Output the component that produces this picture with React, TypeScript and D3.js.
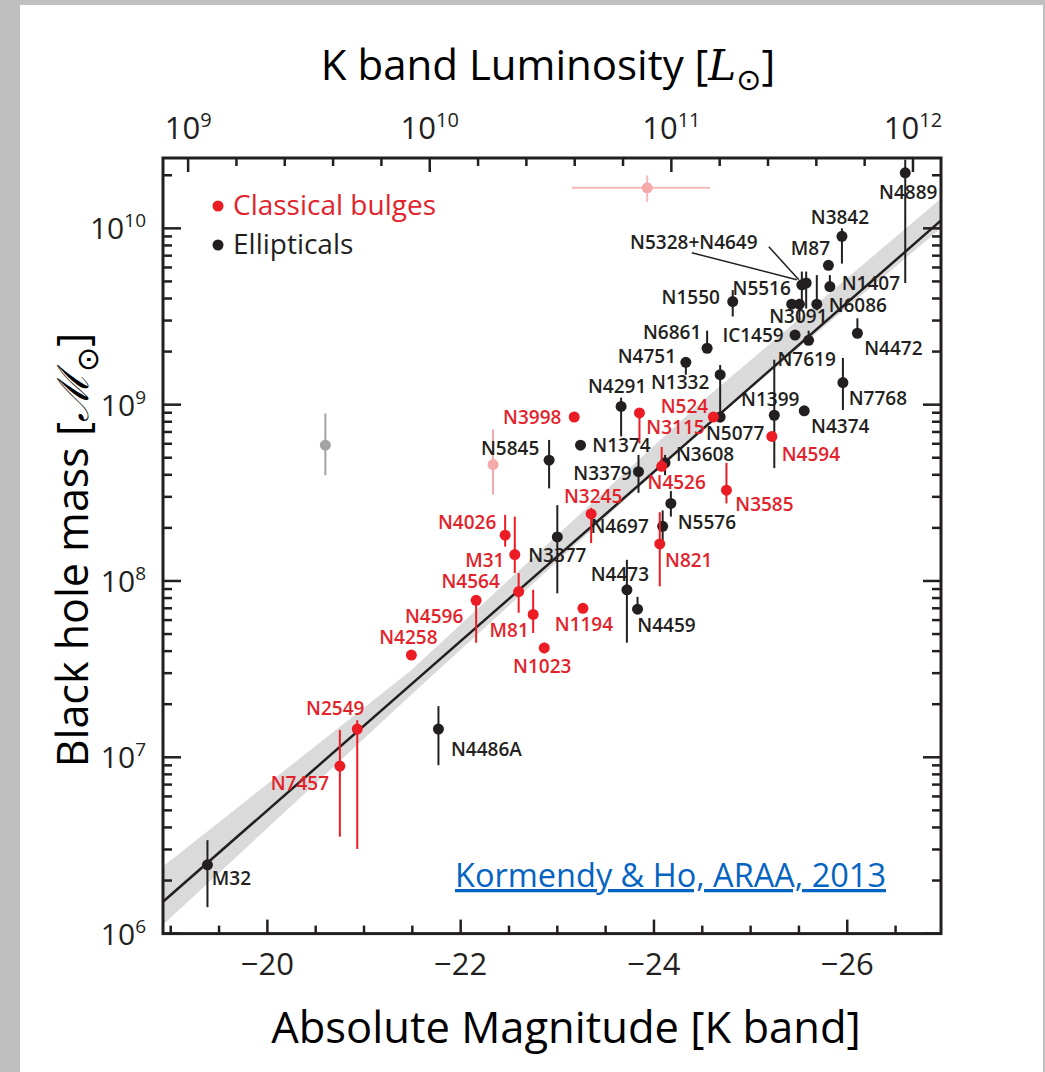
import React from 'react';
import * as d3 from 'd3';

// [name, M_K, log10 M_BH, err low, err high]
type Gal = [string, number, number, number | null, number | null];

const classicalBulges: Gal[] = [
  ['N7457', -20.75, 6.95, 6.55, 7.155],
  ['N2549', -20.93, 7.16, 6.48, 7.21],
  ['N4258', -21.49, 7.58, null, null],
  ['N4596', -22.16, 7.89, 7.65, 7.9],
  ['N4564', -22.6, 7.94, 7.82, 8.045],
  ['M81', -22.75, 7.81, 7.705, 7.95],
  ['N1023', -22.865, 7.62, 7.59, 7.65],
  ['N4026', -22.46, 8.26, 8.195, 8.375],
  ['M31', -22.56, 8.15, 8.045, 8.365],
  ['N1194', -23.265, 7.845, null, null],
  ['N3245', -23.35, 8.38, 8.215, 8.415],
  ['N3998', -23.175, 8.93, null, null],
  ['N3115', -23.85, 8.953, 8.78, 8.97],
  ['N4526', -24.08, 8.65, 8.63, 8.76],
  ['N821', -24.06, 8.21, 7.97, 8.39],
  ['N524', -24.615, 8.93, null, null],
  ['N3585', -24.75, 8.515, 8.44, 8.67],
  ['N4594', -25.22, 8.82, null, null],
];

const ellipticals: Gal[] = [
  ['M32', -19.38, 6.39, 6.15, 6.53],
  ['N4486A', -21.77, 7.16, 6.955, 7.29],
  ['N3377', -23.0, 8.25, 7.93, 8.43],
  ['N5845', -22.915, 8.685, 8.525, 8.8],
  ['N1374', -23.24, 8.77, 8.75, 8.79],
  ['N4291', -23.66, 8.99, 8.82, 9.04],
  ['N3379', -23.84, 8.62, 8.5, 8.715],
  ['N3608', -24.115, 8.67, 8.6, 8.715],
  ['N5576', -24.175, 8.44, 8.365, 8.51],
  ['N4697', -24.09, 8.31, 8.195, 8.4],
  ['N4473', -23.72, 7.95, 7.65, 8.12],
  ['N4459', -23.83, 7.84, 7.82, 7.91],
  ['N5077', -24.685, 8.93, 8.9, 8.96],
  ['N1332', -24.685, 9.17, 8.93, 9.225],
  ['N4751', -24.33, 9.24, 9.17, 9.26],
  ['N6861', -24.55, 9.32, 9.3, 9.42],
  ['N1550', -24.815, 9.585, 9.5, 9.65],
  ['N1399', -25.245, 8.94, 8.64, 9.255],
  ['N4374', -25.555, 8.965, 8.94, 8.99],
  ['N7768', -25.955, 9.125, 8.97, 9.265],
  ['N4472', -26.105, 9.405, 9.39, 9.49],
  ['N7619', -25.6, 9.365, 9.35, 9.42],
  ['IC1459', -25.46, 9.395, 9.38, 9.41],
  ['N5516', -25.425, 9.57, null, null],
  ['N3091', -25.505, 9.57, 9.47, 9.6],
  ['N6086', -25.685, 9.57, 9.535, 9.735],
  ['N5328', -25.53, 9.68, 9.545, 9.755],
  ['N4649', -25.575, 9.69, 9.545, 9.755],
  ['N1407', -25.82, 9.67, 9.66, 9.735],
  ['M87', -25.805, 9.79, null, null],
  ['N3842', -25.945, 9.955, 9.8, 10.0],
  ['N4889', -26.6, 10.315, 9.69, 10.39],
];

// faded points: [M_K, logM, err low, err high, colour]
const fadedPoints: [number, number, number, number, string][] = [
  [-22.335, 8.66, 8.49, 8.86, '#f4a9ab'],
  [-20.6, 8.77, 8.6, 8.95, '#a3a3a3'],
];
// representative error cross
const errCross = { mag: -23.93, logM: 10.23, lo: 10.15, hi: 10.3, magLo: -23.15, magHi: -24.58 };

// fit: log M = a + b (M_K + 24.21)
const fitPivot = -24.21;
const fitA = 8.72;
const fitB = -0.48;
const bandMag = [-18.92, -21.48, -24.5, -26.97];
const bandLo = [6.05, 7.35, 8.86, 10.0];
const bandHi = [6.38, 7.49, 9.02, 10.17];

const magTicks = [-20, -22, -24, -26];
const lumExps = [9, 10, 11, 12];
const massExps = [6, 7, 8, 9, 10];

// label placement, px from the dot: [dx, dy]
const labelOffsets: Record<string, [number, number]> = {
  M32: [24, 20], N7457: [-40, 24], N2549: [-22, -14], N4486A: [48, 27],
  N4258: [-3, -11], N4596: [-42, 23], N4564: [-48, -4], M81: [-24, 23],
  N1023: [-2, 25], N4026: [-38, -6], M31: [-30, 12], N1194: [1, 23],
  N3245: [2, -11], N3377: [0, 25], N5845: [-39, -5], N3998: [-42, 7],
  N1374: [41, 7], N4291: [-4, -13], N3115: [36, 21], N3379: [-36, 8],
  N4526: [15, 23], N3608: [40, -2], N5576: [36, 26], N4697: [-43, 7],
  N821: [29, 23], N4473: [-7, -9], N4459: [29, 23], N524: [-29, -4],
  N5077: [15, 23], N1332: [-40, 14], N4751: [-39, 1], N6861: [-35, -9],
  N1550: [-42, 2], N3585: [38, 21], N1399: [-4, -9], N4594: [39, 25],
  N4374: [36, 22], N7768: [35, 22], N4472: [36, 22], N7619: [-2, 26],
  IC1459: [-42, 7], N5516: [-30, -9], N3091: [-1, 19], N6086: [41, 8],
  N1407: [41, 3], M87: [-18, -10], N3842: [-2, -12], N4889: [3, 26],
};

const RED = '#ec1c24';
const RED_TXT = '#e3232b';
const BLACK = '#231f20';
const FONT = "'Open Sans', 'Noto Sans', sans-serif";

const W = 1045;
const H = 1072;
const left = 163;
const right = 941;
const top = 158;
const bottom = 933.6;
const MSUN = 3.32;

const App = () => {
  const x = d3.scaleLinear().domain([-18.92, -26.97]).range([left, right]);
  const y = d3.scaleLog().domain([1e6, Math.pow(10, 10.399)]).range([bottom, top]);
  const lum = (m: number) => Math.pow(10, -0.4 * (m - MSUN));
  const xL = d3.scaleLog().domain([lum(-18.92), lum(-26.97)]).range([left, right]);
  const yl = (v: number) => y(Math.pow(10, v));

  const fitLine = d3
    .line<number>()
    .x((m) => x(m))
    .y((m) => yl(fitA + fitB * (m - fitPivot)))([-18.92, -26.97]);

  const band = d3
    .area<number>()
    .x((_, i) => x(bandMag[i]))
    .y0((_, i) => yl(bandLo[i]))
    .y1((_, i) => yl(bandHi[i]))(bandMag);

  // ticks
  const botTicks = d3.range(-38, -54, -1).map((k) => k / 2);
  const topTicks = d3.range(44, 62).map((k) => k / 5);
  const yTicks: { v: number; major: boolean }[] = [];
  massExps.forEach((e) => {
    for (let m = 1; m < 10; m++) {
      const v = m * Math.pow(10, e);
      if (v >= 1e6 && v <= Math.pow(10, 10.399)) yTicks.push({ v, major: m === 1 });
    }
  });

  const drawGal = (g: Gal, color: string, txt: string) => {
    const [name, m, lm, lo, hi] = g;
    const cx = x(m);
    const cy = yl(lm);
    const off = labelOffsets[name];
    return (
      <g key={name}>
        {lo !== null && hi !== null && (
          <line x1={cx} x2={cx} y1={yl(lo)} y2={yl(hi)} stroke={color} strokeWidth={2} />
        )}
        <circle cx={cx} cy={cy} r={5.5} fill={color} />
        {off && (
          <text
            x={cx + off[0]}
            y={cy + off[1]}
            textAnchor="middle"
            fontSize={19}
            fontWeight={600}
            fill={txt}
          >
            {name}
          </text>
        )}
      </g>
    );
  };

  const n5328 = ellipticals.find((g) => g[0] === 'N5328')!;
  const ax = x(n5328[1]);
  const ay = yl(n5328[2]);

  return (
    <div style={{ position: 'absolute', left: 0, top: 0 }}>
      <svg width={W} height={H} fontFamily={FONT}>
        <rect x={0} y={0} width={W} height={H} fill="#bfbfbf" />
        <rect x={20} y={5} width={1023} height={H - 5} fill="#ffffff" />
        <defs>
          <clipPath id="plot">
            <rect x={left} y={top} width={right - left} height={bottom - top} />
          </clipPath>
        </defs>

        <g clipPath="url(#plot)">
          <path d={band ?? ''} fill="#dadada" />
          <path d={fitLine ?? ''} stroke={BLACK} strokeWidth={2.5} fill="none" />
        </g>

        {/* faded points */}
        {fadedPoints.map(([m, lm, lo, hi, c], i) => (
          <g key={'f' + i}>
            <line x1={x(m)} x2={x(m)} y1={yl(lo)} y2={yl(hi)} stroke={c} strokeWidth={2} />
            <circle cx={x(m)} cy={yl(lm)} r={5.5} fill={c} />
          </g>
        ))}
        <g>
          <line x1={x(errCross.magLo)} x2={x(errCross.magHi)} y1={yl(errCross.logM)} y2={yl(errCross.logM)} stroke="#f6b8b8" strokeWidth={2} />
          <line x1={x(errCross.mag)} x2={x(errCross.mag)} y1={yl(errCross.lo)} y2={yl(errCross.hi)} stroke="#f6b8b8" strokeWidth={2} />
          <circle cx={x(errCross.mag)} cy={yl(errCross.logM)} r={5.5} fill="#f4a9ab" />
        </g>

        {/* N5328 + N4649 leader */}
        <line x1={ax - 110} y1={ay - 32} x2={ax - 5} y2={ay - 5} stroke={BLACK} strokeWidth={1.5} />
        <line x1={ax - 33} y1={ay - 38} x2={ax - 3} y2={ay - 5} stroke={BLACK} strokeWidth={1.5} />
        <text x={ax - 108} y={ay - 36} textAnchor="middle" fontSize={19} fontWeight={600} fill={BLACK}>
          N5328+N4649
        </text>

        {ellipticals.map((g) => drawGal(g, BLACK, BLACK))}
        {classicalBulges.map((g) => drawGal(g, RED, RED_TXT))}

        {/* legend */}
        <circle cx={218} cy={206} r={5.5} fill={RED} />
        <text x={233} y={215} fontSize={28} fill={RED_TXT}>Classical bulges</text>
        <circle cx={218} cy={245} r={5.5} fill={BLACK} />
        <text x={233} y={254} fontSize={28} fill={BLACK}>Ellipticals</text>

        {/* frame */}
        <rect x={left} y={top} width={right - left} height={bottom - top} fill="none" stroke={BLACK} strokeWidth={3} />

        {/* bottom ticks */}
        {botTicks.map((t) => {
          const major = magTicks.includes(t);
          return (
            <line key={'b' + t} x1={x(t)} x2={x(t)} y1={bottom} y2={bottom - (major ? 14 : 8)} stroke={BLACK} strokeWidth={2.5} />
          );
        })}
        {magTicks.map((t) => (
          <text key={'bl' + t} x={x(t)} y={975} textAnchor="middle" fontSize={31} fill={BLACK}>
            {'\u2212' + Math.abs(t)}
          </text>
        ))}

        {/* top ticks */}
        {topTicks.map((e) => {
          const xv = xL(Math.pow(10, e));
          if (xv < left + 2 || xv > right - 2) return null;
          const major = Math.abs(e - Math.round(e)) < 1e-6;
          return (
            <line key={'t' + e} x1={xv} x2={xv} y1={top} y2={top + (major ? 14 : 8)} stroke={BLACK} strokeWidth={2.5} />
          );
        })}
        {lumExps.map((e) => (
          <text key={'tl' + e} x={xL(Math.pow(10, e))} y={139} textAnchor="middle" fontSize={31} fill={BLACK}>
            10<tspan dy={-12} fontSize={20}>{e}</tspan>
          </text>
        ))}

        {/* y ticks, both sides */}
        {yTicks.map(({ v, major }) => (
          <g key={'y' + v}>
            <line x1={left} x2={left + (major ? 18 : 9)} y1={y(v)} y2={y(v)} stroke={BLACK} strokeWidth={2.5} />
            <line x1={right} x2={right - (major ? 18 : 9)} y1={y(v)} y2={y(v)} stroke={BLACK} strokeWidth={2.5} />
          </g>
        ))}
        {massExps.map((e) => (
          <text key={'yl' + e} x={146} y={y(Math.pow(10, e)) + 11} textAnchor="end" fontSize={30} fill={BLACK}>
            10<tspan dy={-12} fontSize={19}>{e}</tspan>
          </text>
        ))}

        {/* axis titles */}
        <text x={548} y={80} textAnchor="middle" fontSize={42} fill="#000">
          K band Luminosity [<tspan fontFamily="'DejaVu Serif', serif" fontStyle="italic">L</tspan>
          <tspan dy={10} fontSize={30} fontFamily="'DejaVu Sans', sans-serif">{'\u2299'}</tspan>
          <tspan dy={-10}>]</tspan>
        </text>
        <text x={566} y={1043} textAnchor="middle" fontSize={43.5} fill="#000">
          Absolute Magnitude [K band]
        </text>
        <text transform="translate(88,550) rotate(-90)" textAnchor="middle" fontSize={43} fill="#000">
          Black hole mass [<tspan fontFamily="'DejaVu Serif', serif" fontStyle="italic">{'\u2133'}</tspan>
          <tspan dy={10} fontSize={30} fontFamily="'DejaVu Sans', sans-serif">{'\u2299'}</tspan>
          <tspan dy={-10}>]</tspan>
        </text>

        <text x={886} y={887} textAnchor="end" fontSize={32.5} fill="#0563c1" textDecoration="underline">
          Kormendy &amp; Ho, ARAA, 2013
        </text>
      </svg>
    </div>
  );
};

export default App;
